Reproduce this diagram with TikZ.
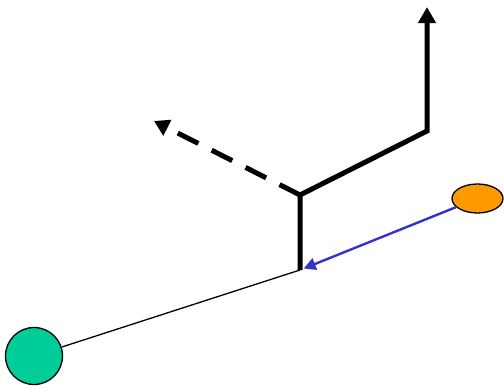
\documentclass[tikz,border=0pt]{standalone}
\usetikzlibrary{arrows.meta,shapes.geometric}
\definecolor{greenfill}{RGB}{0,204,153}
\definecolor{orangefill}{RGB}{255,153,0}
\definecolor{bluearrow}{RGB}{51,51,204}
\begin{document}
\begin{tikzpicture}[x=1pt,y=-1pt,
  thickline/.style={line width=5pt,line join=miter},
  blacktip/.style={-{Triangle[length=16pt,width=17pt]}},
  dashtipstyle/.style={-{Triangle[length=15pt,width=17pt]}}]
\useasboundingbox (0,0) rectangle (504,388);
\node[circle,draw,line width=1.3pt,fill=greenfill,minimum size=57pt,inner sep=0pt] (g) at (34,356) {};
\node[ellipse,draw,line width=1.3pt,fill=orangefill,minimum width=51pt,minimum height=29pt,inner sep=0pt] (o) at (477.5,198.5) {};
\coordinate (j1) at (300,270);
\coordinate (j2) at (300,195);
\coordinate (bend) at (427,131);
\coordinate (top) at (427,7);
\coordinate (dtip) at (154,121);
\draw[line width=1.3pt] (g) -- (j1);
\draw[thickline,blacktip] (j1) -- (j2) -- (bend) -- (top);
\draw[thickline,dashtipstyle,dash pattern=on 23pt off 15pt] (j2) -- (dtip);
\draw[bluearrow,line width=2.4pt,-{Triangle[length=12pt,width=12pt]},shorten >=4pt] (o) -- (j1);
\end{tikzpicture}
\end{document}
